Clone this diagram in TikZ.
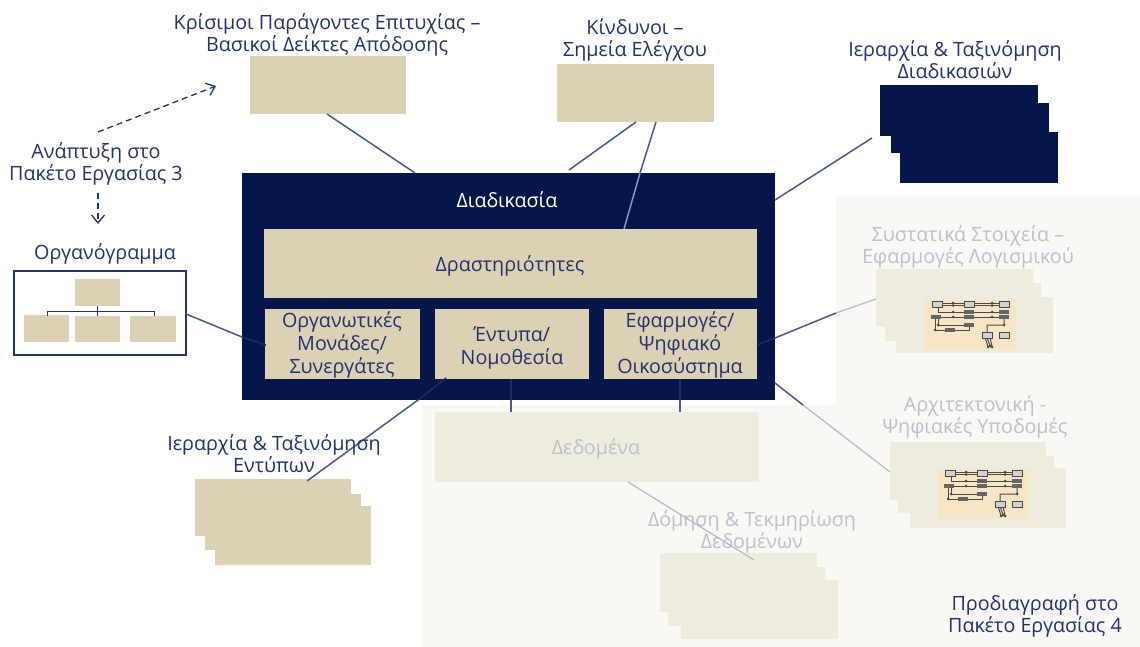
\documentclass[tikz,border=0pt]{standalone}
\usepackage{fontspec}
\setmainfont{Open Sans}
\usetikzlibrary{arrows.meta}
\definecolor{navy}{HTML}{05174A}
\definecolor{inktext}{HTML}{22336E}
\definecolor{beige}{HTML}{DCD1B4}
\definecolor{veil}{HTML}{F9F8F4}
\definecolor{palebox}{HTML}{EEEBDF}
\definecolor{paletext}{HTML}{BCBFCD}
\definecolor{cream}{HTML}{F6E6C6}
\definecolor{linkc}{HTML}{4A5A8C}
\definecolor{linkin}{HTML}{1D2D6A}
\definecolor{linklight}{HTML}{8C96C0}
\definecolor{linkpale}{HTML}{B5B9C9}
\definecolor{thumb}{HTML}{4A4A4A}
\newcommand{\bx}[6]{\node[#2,inner sep=0pt,outer sep=0pt,minimum width={(#5-#3)*1pt},minimum height={(#6-#4)*1pt}] (#1) at ({(#3+#5)/2},{(#4+#6)/2}) {};}
\newcommand{\thumbnail}[3]{%
\begin{scope}[shift={(#2,#3)}]
\node[fill=cream,inner sep=0pt,minimum width=91pt,minimum height=50pt,anchor=north west] (#1) at (0,0) {};
\draw[thumb,line width=1pt] (17,3)--(39,3) (17,5.5)--(39,5.5) (49,3)--(74,3) (49,5.5)--(74,5.5);
\draw[thumb,line width=1pt] (13,7)--(13,12)--(84,12) (6,17)--(84,17) (10,17)--(10,30)--(44,30)--(44,25) (13,17)--(13,25)--(46,25);
\draw[thumb,line width=1pt] (79,17)--(79,25)--(62,25)--(62,32) (60,37)--(63,47) (62,37)--(65,46) (65,37)--(67,47);
\foreach \px/\py in {28/3,28/5.5,28/12,67/3,67/5.5,67/12,28/17,67/17,10/17,13/25,10/30,79/25,63/47,65/46,67/47}{\fill[thumb] (\px,\py) circle (1.5pt);}
\foreach \pa/\pb in {39/10.2,39/15.3,39/23.2,20/28.2,74/10.2,74/15.3,6/15.3}{\fill[thumb!85!white] (\pa,\pb) rectangle ++(10,3.6);}
\foreach \pa/\pb in {7/1,39/1,74/1,57/32,74/32}{\draw[thumb,fill=white!75!thumb,line width=1pt] (\pa,\pb) rectangle ++(10,6);}
\end{scope}}
\tikzset{
  lbl/.style={font=\fontsize{19.7}{22}\selectfont,text=inktext,align=center,inner sep=0pt,yshift=-1.5pt},
  palelbl/.style={lbl,text=paletext},
  beigebox/.style={fill=beige},
  navybox/.style={fill=navy},
  palefill/.style={fill=palebox},
  link/.style={draw=linkc,line width=1.5pt},
  linkdark/.style={draw=linkin,line width=1.5pt},
  linkfaint/.style={draw=linklight,line width=1.5pt},
  linkp/.style={draw=linkpale,line width=1.2pt},
  dasharrow/.style={draw=inktext,line width=1.3pt,dash pattern=on 6pt off 4pt,-{Straight Barb[length=8pt,width=13pt]}},
}
\begin{document}
\begin{tikzpicture}[x=1pt,y=-1pt]
\useasboundingbox (0,0) rectangle (1140,647);
\fill[white] (0,0) rectangle (1140,647);
% pale region
\fill[veil] (422,405)--(836,405)--(836,197)--(1140,197)--(1140,647)--(422,647)--cycle;
% top boxes
\bx{csf}{beigebox}{250}{56}{406}{114}
\bx{risk}{beigebox}{557}{64}{714}{122}
\bx{ph1}{navybox}{880}{85}{1038}{136}
\bx{ph2}{navybox}{891}{103}{1049}{153}
\bx{ph3}{navybox}{900}{132}{1058}{183}
% process
\bx{proc}{navybox}{242}{173}{775}{400}
\bx{act}{beigebox}{264}{229}{757}{298}
\bx{units}{beigebox}{265}{309}{420}{379}
\bx{forms}{beigebox}{435}{309}{589}{379}
\bx{apps}{beigebox}{604}{309}{757}{379}
% data
\bx{data}{palefill}{435}{412}{759}{482}
% organigram
\node[draw=inktext,line width=1.2pt,fill=white,inner sep=0pt,minimum width=172pt,minimum height=84pt] (org) at (100,313) {};
\bx{ot}{beigebox}{75}{279}{120}{306}
\bx{oa}{beigebox}{24}{315}{69}{342}
\bx{ob}{beigebox}{75}{316}{120}{342}
\bx{oc}{beigebox}{130}{316}{176}{342}
\draw[inktext,line width=1pt] (47,316)--(47,311)--(154,311)--(154,316) (ot.south)--(ob.north);
% form hierarchy
\bx{fh1}{beigebox}{195}{479}{351}{536}
\bx{fh2}{beigebox}{205}{494}{361}{550}
\bx{fh3}{beigebox}{215}{506}{371}{565}
% software stack
\bx{sw1}{palefill}{876}{269}{1033}{327}
\bx{sw2}{palefill}{885}{283}{1041}{341}
\bx{sw3}{palefill}{896}{297}{1053}{353}
\thumbnail{swthumb}{925}{300}
% architecture stack
\bx{ar1}{palefill}{890}{442}{1046}{500}
\bx{ar2}{palefill}{898}{456}{1054}{513}
\bx{ar3}{palefill}{910}{468}{1066}{528}
\thumbnail{arthumb}{938}{469}
% data structure stack
\bx{ds1}{palefill}{660}{553}{817}{612}
\bx{ds2}{palefill}{668}{567}{825}{626}
\bx{ds3}{palefill}{681}{580}{838}{639}
% connector end points
\coordinate (c1a) at (327,114); \coordinate (c1b) at (415,173);
\coordinate (c2a) at (636,122); \coordinate (c2b) at (569,170);
\coordinate (c3a) at (656,122); \coordinate (c3m) at (640,173); \coordinate (c3b) at (624,229);
\coordinate (c4a) at (872,138); \coordinate (c4b) at (775,200);
\coordinate (c5a) at (186,314); \coordinate (c5m) at (242,337); \coordinate (c5b) at (266,345);
\coordinate (c6a) at (307,481); \coordinate (c6m) at (418,400); \coordinate (c6b) at (446,378);
\coordinate (c7a) at (511,379); \coordinate (c7m) at (511,400); \coordinate (c7b) at (511,412);
\coordinate (c8a) at (680,379); \coordinate (c8m) at (680,400); \coordinate (c8b) at (680,412);
\coordinate (c9a) at (757,345); \coordinate (c9m) at (775,338); \coordinate (c9n) at (836,313); \coordinate (c9b) at (876,299);
\coordinate (c10a) at (775,383); \coordinate (c10m) at (803,405); \coordinate (c10b) at (890,472);
\coordinate (c11a) at (628,482); \coordinate (c11b) at (754,560);
% connectors
\draw[link] (c1a)--(c1b);
\draw[link] (c2a)--(c2b);
\draw[link] (c3a)--(c3m);
\draw[linkfaint] (c3m)--(c3b);
\draw[link] (c4a)--(c4b);
\draw[link] (c5a)--(c5m);
\draw[linkdark] (c5m)--(c5b);
\draw[link] (c6a)--(c6m);
\draw[linkdark] (c6m)--(c6b);
\draw[linkdark] (c7a)--(c7m);
\draw[link] (c7m)--(c7b);
\draw[linkdark] (c8a)--(c8m);
\draw[link] (c8m)--(c8b);
\draw[linkdark] (c9a)--(c9m);
\draw[link] (c9m)--(c9n);
\draw[linkp] (c9n)--(c9b);
\draw[link] (c10a)--(c10m);
\draw[linkp] (c10m)--(c10b);
% dashed arrows
\coordinate (d0) at (98,132); \coordinate (d1) at (216,86);
\coordinate (d2) at (98,193); \coordinate (d3) at (98,224);
\draw[dasharrow] (d0)--(d1);
\draw[dasharrow] (d2)--(d3);
% labels
\node[lbl] (t1) at (327,33) {Κρίσιμοι Παράγοντες Επιτυχίας –\\Βασικοί Δείκτες Απόδοσης};
\node[lbl] (t2) at (635,38) {Κίνδυνοι –\\Σημεία Ελέγχου};
\node[lbl] (t3) at (955,58) {Ιεραρχία \& Ταξινόμηση\\Διαδικασιών};
\node[lbl] (t4) at (96,162) {Ανάπτυξη στο\\Πακέτο Εργασίας 3};
\node[lbl] (t5) at (105,252) {Οργανόγραμμα};
\node[lbl,text=white] (t6) at (507,198) {Διαδικασία};
\node[lbl] (t7) at (510,264) {Δραστηριότητες};
\node[lbl,font=\fontsize{19.7}{23}\selectfont] (t8) at (342,343) {Οργανωτικές\\Μονάδες/\\Συνεργάτες};
\node[lbl,font=\fontsize{19.7}{23}\selectfont] (t9) at (512,346) {Έντυπα/\\Νομοθεσία};
\node[lbl,font=\fontsize{19.7}{23}\selectfont] (t10) at (680,343) {Εφαρμογές/\\Ψηφιακό\\Οικοσύστημα};
\node[lbl] (t11) at (274,452) {Ιεραρχία \& Ταξινόμηση\\Εντύπων};
\node[palelbl] (t12) at (968,245) {Συστατικά Στοιχεία –\\Εφαρμογές Λογισμικού};
\node[palelbl] (t13) at (975,415) {Αρχιτεκτονική -\\Ψηφιακές Υποδομές};
\node[palelbl] (t14) at (596,447) {Δεδομένα};
\node[palelbl] (t15) at (752,530) {Δόμηση \& Τεκμηρίωση\\Δεδομένων};
\node[lbl] (t16) at (1035,614) {Προδιαγραφή στο\\Πακέτο Εργασίας 4};
\draw[linkp] (c11a)--(c11b);
\end{tikzpicture}
\end{document}
